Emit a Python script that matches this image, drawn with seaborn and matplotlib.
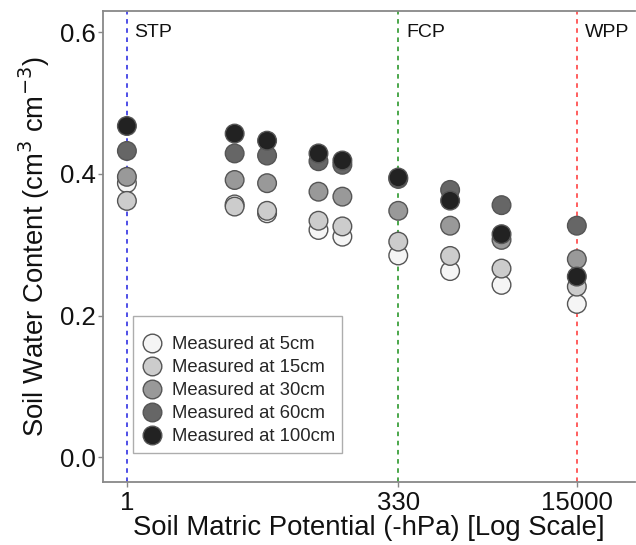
import matplotlib
matplotlib.use("Agg")
import matplotlib.pyplot as plt
import seaborn as sns
import pandas as pd
import numpy as np

# Data
potentials = [1, 10, 20, 60, 100, 330, 1000, 3000, 15000]
depths = ["Measured at 5cm", "Measured at 15cm", "Measured at 30cm",
          "Measured at 60cm", "Measured at 100cm"]
swc_5cm = [0.387, 0.357, 0.3445, 0.321, 0.3115, 0.285, 0.263, 0.2435, 0.2166]
swc_15cm = [0.362, 0.354, 0.348, 0.334, 0.326, 0.3045, 0.2843, 0.2665, 0.241]
swc_30cm = [0.396, 0.3915, 0.387, 0.375, 0.368, 0.348, 0.327, 0.307, 0.2797]
swc_60cm = [0.4325, 0.429, 0.426, 0.418, 0.413, 0.393, 0.3775, 0.356, 0.327]
swc_100cm = [0.4677, 0.457, 0.447, 0.429, 0.419, 0.395, 0.3624, 0.315, 0.2552]
ref_points = [1, 330, 15000]
ref_labels = ["STP", "FCP", "WPP"]
ref_colors = ["#1f1fe0", "#1a8f1a", "#ff3333"]
fill_colors = ["#f5f5f5", "#cccccc", "#999999", "#666666", "#222222"]

series = [swc_5cm, swc_15cm, swc_30cm, swc_60cm, swc_100cm]
df = pd.concat([pd.DataFrame({"x": potentials, "y": s, "depth": d})
                for s, d in zip(series, depths)], ignore_index=True)

sns.set_theme(style="white")
plt.rcParams["font.family"] = ["Liberation Sans", "DejaVu Sans"]

fig = plt.figure(figsize=(6.36, 5.45), dpi=100)
ax = fig.add_axes([103/636, 1 - 481.5/545, (635 - 103)/636, (481.5 - 11)/545])

for xv, lab, c in zip(ref_points, ref_labels, ref_colors):
    ax.axvline(xv, color=c, linestyle=(0, (3, 3)), linewidth=1.1, zorder=1)
    ax.annotate(lab, xy=(xv, 0.6), xytext=(5.5, 0), textcoords="offset points",
                ha="left", va="center", fontsize=14, color="#111111")

sns.scatterplot(data=df, x="x", y="y", hue="depth", hue_order=depths,
                palette=fill_colors, s=180, edgecolor="#555555", linewidth=1.0,
                ax=ax, zorder=3, legend=True)

ax.set_xscale("log")
ax.set_xlim(0.6, 52000)
ax.set_ylim(-0.034, 0.63)
ax.set_xticks(ref_points)
ax.set_xticklabels([str(v) for v in ref_points])
ax.minorticks_off()
ax.set_yticks([0.0, 0.2, 0.4, 0.6])
ax.set_yticklabels(["0.0", "0.2", "0.4", "0.6"])
ax.tick_params(axis="both", labelsize=18.5, length=3.5, width=1, color="#888888",
               pad=1.5, labelcolor="#111111", direction="out", bottom=True, left=True)
ax.tick_params(axis="x", pad=3)

ax.set_xlabel("Soil Matric Potential (-hPa) [Log Scale]", fontsize=19.8, color="#111111", labelpad=0)
ax.set_ylabel("Soil Water Content (cm$^3$ cm$^{-3}$)", fontsize=19.8, color="#111111", labelpad=6)

for side in ["left", "bottom", "top"]:
    ax.spines[side].set_color("#888888")
    ax.spines[side].set_linewidth(1.3)
ax.spines["right"].set_visible(False)

leg = ax.legend(loc="lower left", bbox_to_anchor=(0.057, 0.061), borderaxespad=0,
                fontsize=13.3, frameon=True, fancybox=False, edgecolor="#999999",
                handlelength=1.2, handletextpad=0.47, labelspacing=0.33,
                borderpad=0.4, title=" ", title_fontsize=6, markerscale=1.0)
leg.get_frame().set_linewidth(1.0)
for h in leg.legend_handles:
    try:
        h.set_markeredgecolor("#555555")
        h.set_markeredgewidth(1.0)
    except AttributeError:
        pass

fig.savefig("out.png", dpi=100)
